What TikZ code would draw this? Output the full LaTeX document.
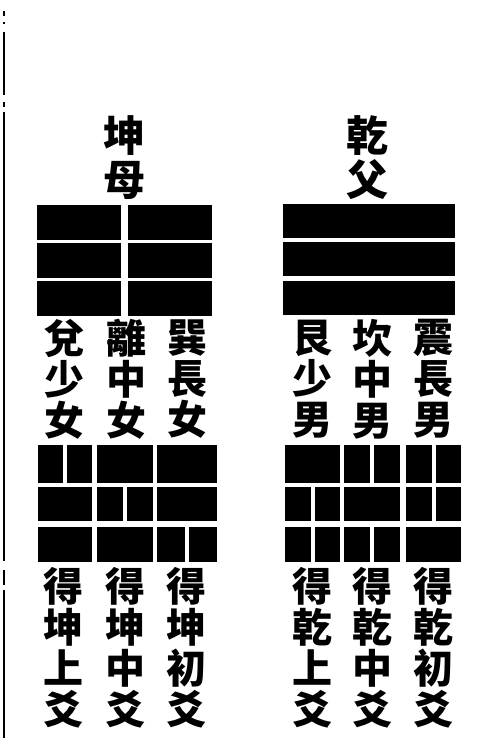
\documentclass[tikz,border=0pt]{standalone}
\usepackage{fontspec}
\newfontfamily\cjk{Noto Sans CJK TC}

% one line of a trigram: x, y, width, height, 1 = whole, 0 = broken
\newcommand{\yao}[5]{%
    \ifnum#5=1
        \fill (#1,#2) rectangle ++(#3,#4);
    \else
        \fill (#1,#2) rectangle ++(#3/2-\gap/2,#4);
        \fill (#1+#3/2+\gap/2,#2) rectangle ++(#3/2-\gap/2,#4);
    \fi}

\begin{document}
\begin{tikzpicture}[
    x=1pt, y=-1pt,
    zi/.style={font=\cjk\bfseries\fontsize{40}{41}\selectfont, align=center, inner sep=0pt},
    ming/.style={zi, font=\cjk\bfseries\fontsize{42}{44}\selectfont}
]
    \useasboundingbox (0,0) rectangle (483,738);
    \def\gap{4}

    % rule at the left edge of the page
    \foreach \a/\b in {11/16, 22/24, 32/95, 102/107, 112/561, 570/585, 590/738}
        \draw[line width=2.4pt] (4,\a) -- (4,\b);

    % father and mother
    \node[ming] (qianfu) at (367,158) {乾\\父};
    \node[ming] (kunmu) at (124,158) {坤\\母};
    \foreach \t/\y in {1/204, 1/242, 1/281}
        \yao{283}{\y}{172}{34}{\t};
    \def\gap{7}
    \foreach \t/\y in {0/205, 0/243, 0/281}
        \yao{37}{\y}{175}{35}{\t};
    \def\gap{4}

    % the three sons
    \foreach \x/\w/\a/\b/\c in {285/55/1/0/0, 344/56/0/1/0, 406/55/0/0/1} {
        \foreach \t/\y/\h in {\a/445/38, \b/487/34, \c/527/35}
            \yao{\x}{\y}{\w}{\h}{\t};
    }
    \node[zi] (gen) at (312,379) {艮\\少\\男};
    \node[zi] (kan) at (372,379) {坎\\中\\男};
    \node[zi] (zhen) at (433,379) {震\\長\\男};
    \node[zi] (genyao) at (312,648) {得\\乾\\上\\爻};
    \node[zi] (kanyao) at (372,648) {得\\乾\\中\\爻};
    \node[zi] (zhenyao) at (433,648) {得\\乾\\初\\爻};

    % the three daughters
    \foreach \x/\w/\a/\b/\c in {38/54/0/1/1, 97/56/1/0/1, 157/60/1/1/0} {
        \foreach \t/\y/\h in {\a/445/38, \b/487/34, \c/527/35}
            \yao{\x}{\y}{\w}{\h}{\t};
    }
    \node[zi] (dui) at (64,379) {兌\\少\\女};
    \node[zi] (li) at (126,379) {離\\中\\女};
    \node[zi] (xun) at (187,379) {巽\\長\\女};
    \node[zi] (duiyao) at (63,648) {得\\坤\\上\\爻};
    \node[zi] (liyao) at (125,648) {得\\坤\\中\\爻};
    \node[zi] (xunyao) at (186,648) {得\\坤\\初\\爻};

\end{tikzpicture}
\end{document}
